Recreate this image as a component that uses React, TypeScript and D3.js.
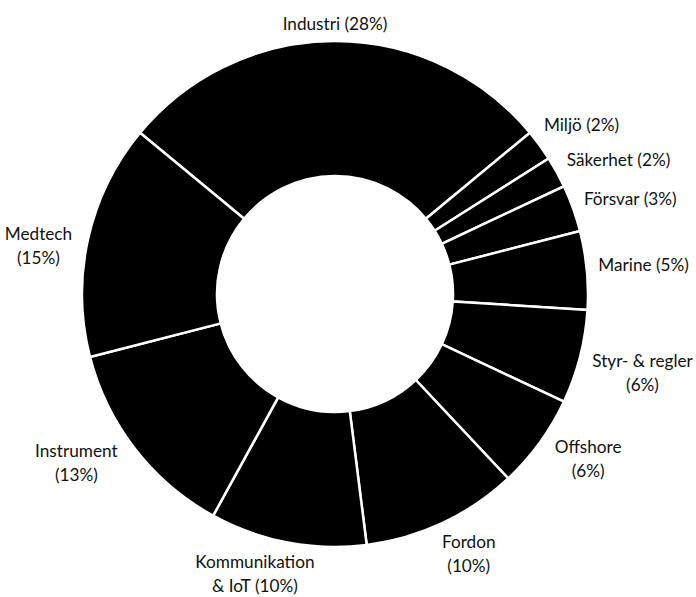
import React, { useEffect, useRef } from 'react';
import * as d3 from 'd3';

// ---- data ----
const categories = [
  'Industri', 'Miljö', 'Säkerhet', 'Försvar', 'Marine', 'Styr- & regler',
  'Offshore', 'Fordon', 'Kommunikation & IoT', 'Instrument', 'Medtech',
];
const shares = [28, 2, 2, 3, 5, 6, 6, 10, 10, 13, 15];
const labelLines = [
  ['Industri (28%)'],
  ['Miljö (2%)'],
  ['Säkerhet (2%)'],
  ['Försvar (3%)'],
  ['Marine (5%)'],
  ['Styr- & regler', '(6%)'],
  ['Offshore', '(6%)'],
  ['Fordon', '(10%)'],
  ['Kommunikation', '& IoT (10%)'],
  ['Instrument', '(13%)'],
  ['Medtech', '(15%)'],
];

// ---- layout ----
const W = 696;
const H = 597;
const CX = 335;
const CY = 294;
const R_OUT = 253;
const R_IN = 118;
const SEP = 2.5;
const FONT = 'Lato, "Open Sans", sans-serif';
const FONT_SIZE = 17.2;
const CAP = 12.3;
const LINE_H = 24;
const GAP = 12.5;
// label placement: small angular spread (degrees) so labels sit as in the layout
const labelAngleShift = [0, 1.6, 3.5, 1.9, 0, 0, -2.9, -2, 4.8, 4.7, -3.4];

export default function App() {
  const ref = useRef<SVGSVGElement | null>(null);

  useEffect(() => {
    const svg = d3.select(ref.current);
    svg.selectAll('*').remove();

    const data = categories.map((c, i) => ({ name: c, value: shares[i], lines: labelLines[i], shift: labelAngleShift[i] }));
    const start = -(shares[0] / d3.sum(shares)) * Math.PI;
    const pie = d3
      .pie<any>()
      .value((d: any) => d.value)
      .sort(null)
      .startAngle(start)
      .endAngle(start + 2 * Math.PI);
    const arcs = pie(data);
    const arc = d3.arc<any>().innerRadius(R_IN).outerRadius(R_OUT);

    const g = svg.append('g').attr('transform', `translate(${CX},${CY})`);
    g.selectAll('path.slice')
      .data(arcs)
      .join('path')
      .attr('class', 'slice')
      .attr('d', arc as any)
      .attr('fill', '#000')
      .attr('stroke', '#fff')
      .attr('stroke-width', SEP)
      .attr('stroke-linejoin', 'miter');

    const rVis = R_OUT - SEP / 2;
    const lg = svg.append('g');
    arcs.forEach((a: any) => {
      const ang = (a.startAngle + a.endAngle) / 2 + (a.data.shift * Math.PI) / 180;
      const s = Math.sin(ang);
      const c = Math.cos(ang);
      const t = lg
        .append('text')
        .attr('font-family', FONT)
        .attr('font-size', FONT_SIZE)
        .attr('fill', '#111')
        .attr('text-anchor', 'middle');
      a.data.lines.forEach((ln: string, i: number) => {
        t.append('tspan').attr('x', 0).attr('y', i * LINE_H).text(ln);
      });
      let w = 0;
      t.selectAll('tspan').each(function () {
        w = Math.max(w, (this as SVGTSpanElement).getComputedTextLength());
      });
      const n = a.data.lines.length;
      const halfW = w / 2;
      const halfH = (CAP + (n - 1) * LINE_H) / 2;
      const support = Math.abs(s) * halfW + Math.abs(c) * halfH;
      const rc = rVis + GAP + support;
      const x = CX + rc * s;
      const y = CY - rc * c;
      let baseline = y - halfH + CAP;
      // keep the whole block inside the picture
      const lastBaseline = baseline + (n - 1) * LINE_H;
      const maxBaseline = H - 5;
      if (lastBaseline > maxBaseline) baseline -= lastBaseline - maxBaseline;
      t.attr('transform', `translate(${x},${baseline})`);
    });
  }, []);

  return (
    <svg
      ref={ref}
      width={W}
      height={H}
      style={{ position: 'absolute', left: 0, top: 0, background: '#fff' }}
    />
  );
}
